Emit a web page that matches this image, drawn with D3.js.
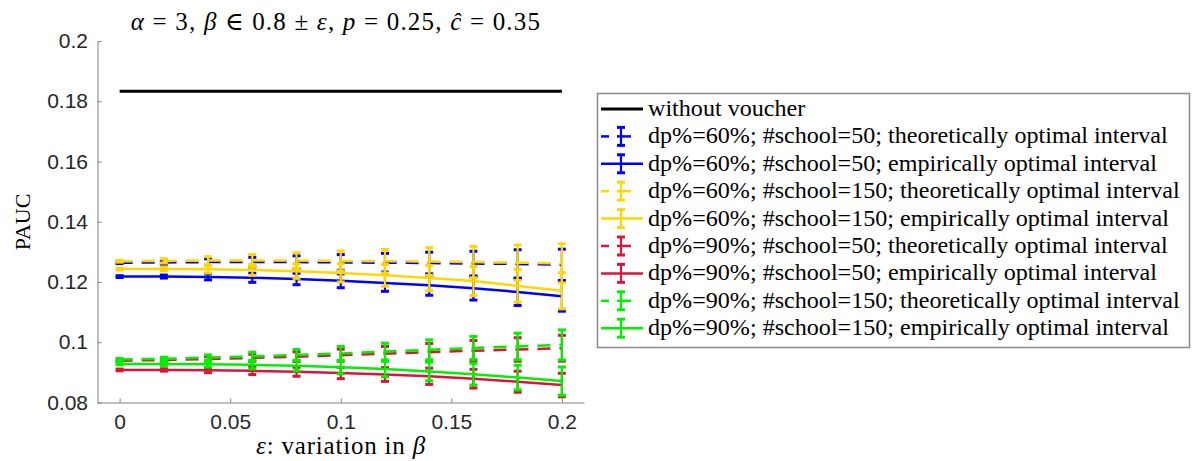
<!DOCTYPE html>
<html><head><meta charset="utf-8">
<script src="https://cdn.jsdelivr.net/npm/d3@7"></script>
<style>body{margin:0;background:#fff}</style>
</head><body>
<svg id="c" width="1195" height="461"></svg>
<script>
const xs = [0, 0.02, 0.04, 0.06, 0.08, 0.1, 0.12, 0.14, 0.16, 0.18, 0.2];
const baseline = 0.1833;
const blueTheo   = [0.1264, 0.1265, 0.1266, 0.1266, 0.1266, 0.1265, 0.1264, 0.1263, 0.1261, 0.1260, 0.1257];
const blueTheoE  = [0.0003, 0.0006, 0.0011, 0.0016, 0.0021, 0.0026, 0.0031, 0.0036, 0.0041, 0.0047, 0.0052];
const blueEmp    = [0.1218, 0.1218, 0.1217, 0.1214, 0.1210, 0.1204, 0.1197, 0.1189, 0.1179, 0.1167, 0.1153];
const blueEmpE   = [0.0003, 0.0005, 0.0010, 0.0015, 0.0019, 0.0023, 0.0028, 0.0033, 0.0039, 0.0045, 0.0050];
const yelTheo    = [0.1269, 0.1270, 0.1271, 0.1271, 0.1271, 0.1270, 0.1269, 0.1268, 0.1266, 0.1264, 0.1262];
const yelTheoE   = [0.0003, 0.0007, 0.0013, 0.0020, 0.0026, 0.0033, 0.0039, 0.0046, 0.0052, 0.0059, 0.0065];
const yelEmp     = [0.1243, 0.1243, 0.1242, 0.1240, 0.1236, 0.1230, 0.1222, 0.1213, 0.1203, 0.1187, 0.1171];
const yelEmpE    = [0.0003, 0.0006, 0.0012, 0.0018, 0.0024, 0.0030, 0.0036, 0.0042, 0.0048, 0.0054, 0.0060];
const redTheo    = [0.0939, 0.0941, 0.0944, 0.0948, 0.0952, 0.0957, 0.0962, 0.0967, 0.0972, 0.0976, 0.0980];
const redTheoE   = [0.0003, 0.0005, 0.0008, 0.0012, 0.0016, 0.0020, 0.0024, 0.0029, 0.0034, 0.0039, 0.0043];
const redEmp     = [0.0908, 0.0908, 0.0907, 0.0905, 0.0902, 0.0898, 0.0893, 0.0887, 0.0879, 0.0869, 0.0858];
const redEmpE    = [0.0003, 0.0004, 0.0008, 0.0012, 0.0015, 0.0019, 0.0023, 0.0027, 0.0031, 0.0035, 0.0039];
const grnTheo    = [0.0943, 0.0945, 0.0949, 0.0953, 0.0958, 0.0963, 0.0969, 0.0975, 0.0981, 0.0986, 0.0991];
const grnTheoE   = [0.0003, 0.0005, 0.0009, 0.0014, 0.0018, 0.0023, 0.0028, 0.0033, 0.0038, 0.0044, 0.0050];
const grnEmp     = [0.0928, 0.0928, 0.0927, 0.0925, 0.0922, 0.0917, 0.0911, 0.0903, 0.0894, 0.0883, 0.0871];
const grnEmpE    = [0.0003, 0.0005, 0.0009, 0.0013, 0.0017, 0.0022, 0.0026, 0.0031, 0.0036, 0.0041, 0.0047];
const xTicks = [0, 0.05, 0.1, 0.15, 0.2];
const xTickLabels = ["0", "0.05", "0.1", "0.15", "0.2"];
const yTicks = [0.08, 0.1, 0.12, 0.14, 0.16, 0.18, 0.2];
const yTickLabels = ["0.08", "0.1", "0.12", "0.14", "0.16", "0.18", "0.2"];
const legendLabels = [
  "without voucher",
  "dp%=60%; #school=50; theoretically optimal interval",
  "dp%=60%; #school=50; empirically optimal interval",
  "dp%=60%; #school=150; theoretically optimal interval",
  "dp%=60%; #school=150; empirically optimal interval",
  "dp%=90%; #school=50; theoretically optimal interval",
  "dp%=90%; #school=50; empirically optimal interval",
  "dp%=90%; #school=150; theoretically optimal interval",
  "dp%=90%; #school=150; empirically optimal interval"
];
const colors = {blue: "#0000ff", yellow: "#ffd700", red: "#dc143c", green: "#00f000"};

const series = [
  {v: blueTheo, e: blueTheoE, c: colors.blue, dash: true},
  {v: blueEmp, e: blueEmpE, c: colors.blue, dash: false},
  {v: yelTheo, e: yelTheoE, c: colors.yellow, dash: true},
  {v: yelEmp, e: yelEmpE, c: colors.yellow, dash: false},
  {v: redTheo, e: redTheoE, c: colors.red, dash: true},
  {v: redEmp, e: redEmpE, c: colors.red, dash: false},
  {v: grnTheo, e: grnTheoE, c: colors.green, dash: true},
  {v: grnEmp, e: grnEmpE, c: colors.green, dash: false}
];

const svg = d3.select("#c");
const x = d3.scaleLinear().domain([-0.01, 0.21]).range([97.5, 584]);
const y = d3.scaleLinear().domain([0.08, 0.2]).range([402.5, 41]);
const axisColor = "#808080", textColor = "#262626";
const sans = "'Liberation Sans', Arial, sans-serif";
const serif = "'Liberation Serif', 'DejaVu Serif', serif";

// axes
const gx = svg.append("g").attr("transform", "translate(0,402.5)")
  .call(d3.axisBottom(x).tickValues(xTicks).tickFormat((d,i)=>xTickLabels[i]).tickSizeInner(-4).tickSizeOuter(0).tickPadding(12));
const gy = svg.append("g").attr("transform", "translate(97.5,0)")
  .call(d3.axisLeft(y).tickValues(yTicks).tickFormat((d,i)=>yTickLabels[i]).tickSizeInner(-4).tickSizeOuter(0).tickPadding(9.5));
[gx, gy].forEach(g => {
  g.select(".domain").attr("stroke", axisColor).attr("stroke-width", 1);
  g.selectAll(".tick line").attr("stroke", axisColor);
  g.selectAll(".tick text").attr("fill", textColor).style("font-family", sans).style("font-size", "21px");
});

// baseline
svg.append("line").attr("x1", x(xs[0])).attr("x2", x(xs[xs.length-1]))
  .attr("y1", y(baseline)).attr("y2", y(baseline)).attr("stroke", "#000").attr("stroke-width", 3);

const line = d3.line().x((d,i)=>x(xs[i])).y(d=>y(d));
const capW = 4;
series.forEach(s => {
  const g = svg.append("g");
  g.append("path").attr("d", line(s.v)).attr("fill", "none").attr("stroke", s.c)
    .attr("stroke-width", 2.5).attr("stroke-dasharray", s.dash ? "13,9" : null);
  xs.forEach((xv, i) => {
    const cx = x(xv), y1 = y(s.v[i] - s.e[i]), y2 = y(s.v[i] + s.e[i]);
    g.append("line").attr("x1", cx).attr("x2", cx).attr("y1", y1).attr("y2", y2).attr("stroke", s.c).attr("stroke-width", 2.2);
    [y1, y2].forEach(yy => g.append("line").attr("x1", cx-capW).attr("x2", cx+capW).attr("y1", yy).attr("y2", yy)
      .attr("stroke", s.c).attr("stroke-width", 3));
  });
});

function fit(t, target, base) {
  const w = t.node().getComputedTextLength();
  t.style("font-size", (base * target / w) + "px");
}

// title
const title = svg.append("text").attr("x", 336).attr("y", 30).attr("text-anchor", "middle")
  .style("font-family", serif).style("font-size", "22px").attr("fill", "#000");
[["α", true], [" = 3, ", false], ["β", true], [" ∈ 0.8 ± ", false], ["ε", true], [", ", false], ["p", true], [" = 0.25, ", false], ["ĉ", true], [" = 0.35", false]]
  .forEach(([t, it]) => title.append("tspan").text(t).style("font-style", it ? "italic" : "normal"));
fit(title, 428, 22);
if (parseFloat(title.style("font-size")) > 25) title.style("font-size", "25px").style("letter-spacing", "1.2px");

// axis labels
svg.append("text").attr("transform", "translate(30,222) rotate(-90)").attr("text-anchor", "middle")
  .style("font-family", serif).style("font-size", "22px").text("PAUC");
const xl = svg.append("text").attr("x", 341).attr("y", 454).attr("text-anchor", "middle")
  .style("font-family", serif).style("font-size", "22px");
xl.append("tspan").text("ε").style("font-style", "italic");
xl.append("tspan").text(": variation in ");
xl.append("tspan").text("β").style("font-style", "italic");
fit(xl, 176, 22);
if (parseFloat(xl.style("font-size")) > 25) xl.style("font-size", "25px").style("letter-spacing", "0.8px");

// legend
const lg = svg.append("g");
lg.append("rect").attr("x", 597.5).attr("y", 93.5).attr("width", 592).attr("height", 254)
  .attr("fill", "#fff").attr("stroke", "#8a8a8a").attr("stroke-width", 1.5);
const rowY = i => 109 + i * 27.4;
const texts = [];
legendLabels.forEach((lab, i) => {
  const yy = rowY(i);
  if (i === 0) {
    lg.append("line").attr("x1", 601).attr("x2", 643).attr("y1", yy).attr("y2", yy).attr("stroke", "#000").attr("stroke-width", 3);
  } else {
    const s = series[i-1];
    if (s.dash) {
      lg.append("line").attr("x1", 601).attr("x2", 609).attr("y1", yy).attr("y2", yy).attr("stroke", s.c).attr("stroke-width", 2.5);
      lg.append("line").attr("x1", 617).attr("x2", 631).attr("y1", yy).attr("y2", yy).attr("stroke", s.c).attr("stroke-width", 2.5);
    } else {
      lg.append("line").attr("x1", 601).attr("x2", 643).attr("y1", yy).attr("y2", yy).attr("stroke", s.c).attr("stroke-width", 2.5);
    }
    const cx = 621;
    lg.append("line").attr("x1", cx).attr("x2", cx).attr("y1", yy-9).attr("y2", yy+9).attr("stroke", s.c).attr("stroke-width", 2.2);
    [yy-9, yy+9].forEach(q => lg.append("line").attr("x1", cx-4).attr("x2", cx+4).attr("y1", q).attr("y2", q).attr("stroke", s.c).attr("stroke-width", 3));
  }
  texts.push(lg.append("text").attr("x", 648).attr("y", yy + 7).style("font-family", serif).style("font-size", "21px").attr("fill", "#000").text(lab));
});
// fit longest legend line to reference width
const maxW = d3.max(texts, t => t.node().getComputedTextLength());
const fs = 21 * 532 / maxW;
texts.forEach(t => t.style("font-size", fs + "px"));
</script>
</body></html>
